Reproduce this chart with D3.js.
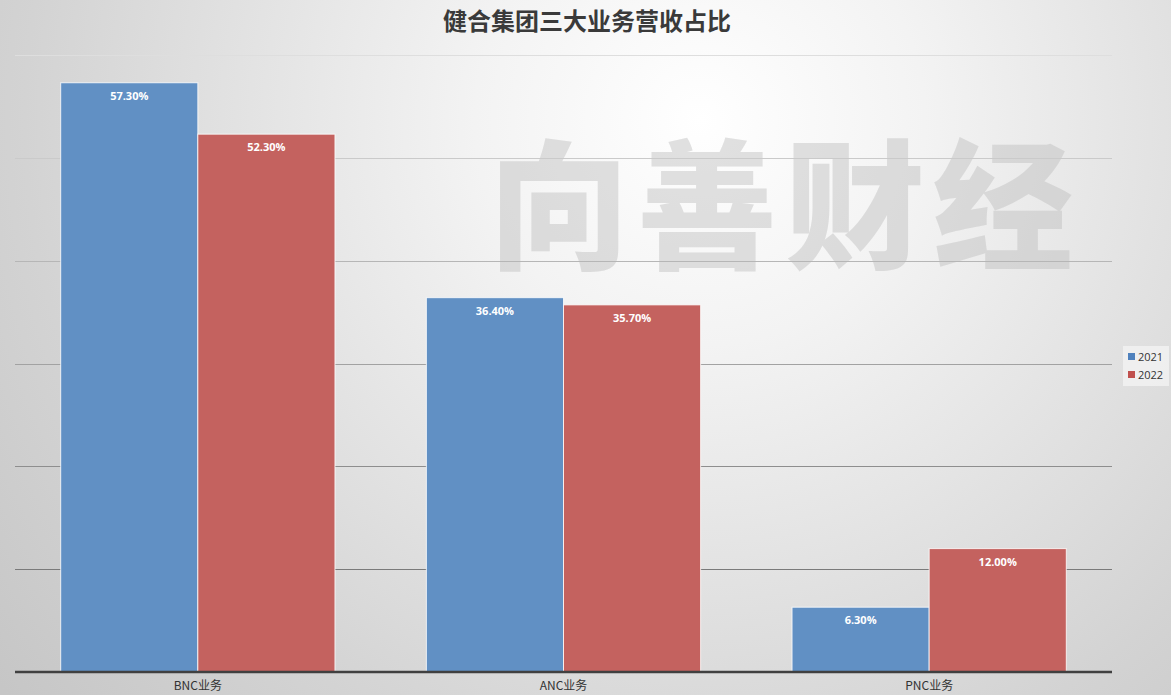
<!DOCTYPE html>
<html><head><meta charset="utf-8">
<script src="https://cdn.jsdelivr.net/npm/d3@7"></script>
<style>body{margin:0;overflow:hidden}svg{display:block}</style>
</head><body>
<svg id="c" width="1171" height="695"></svg>
<script>
const categories = ["BNC业务", "ANC业务", "PNC业务"];
const seriesNames = ["2021", "2022"];
const values2021 = [57.3, 36.4, 6.3];
const values2022 = [52.3, 35.7, 12.0];
const yTicks = [0, 10, 20, 30, 40, 50, 60];
const title = "健合集团三大业务营收占比";
const watermark = "向善财经";
const colors = ["#6190c4", "#c4625f"];
const legendColors = ["#4f81bd", "#c0504d"];

(function(){
const W = 1171, H = 695;
const svg = d3.select("#c");
const defs = svg.append("defs");
const rg = defs.append("radialGradient").attr("id","bg")
  .attr("gradientUnits","userSpaceOnUse").attr("cx",700).attr("cy",120).attr("r",900);
rg.append("stop").attr("offset","0").attr("stop-color","#ffffff");
rg.append("stop").attr("offset","0.25").attr("stop-color","#f3f3f3");
rg.append("stop").attr("offset","0.75").attr("stop-color","#d3d3d3");
rg.append("stop").attr("offset","1").attr("stop-color","#c6c6c6");
svg.append("rect").attr("width",W).attr("height",H).attr("fill","url(#bg)");

const pl = 15, pr = 1112, pt = 55, pb = 672;
const x0 = d3.scaleBand().domain(categories).range([pl, pr]).paddingInner(0.25).paddingOuter(0.125);
const x1 = d3.scaleBand().domain(seriesNames).range([0, x0.bandwidth()]);
const y = d3.scaleLinear().domain([0, 60]).range([pb, pt]);

// watermark
svg.append("text").attr("x", 785).attr("y", 258).attr("text-anchor","middle")
  .attr("font-family","'Noto Sans CJK SC'").attr("font-weight","900").attr("font-size",140)
  .attr("letter-spacing", 8)
  .attr("fill","#bcbcbc").attr("fill-opacity",0.45).text(watermark);

// gridlines
const gridCol = d3.scaleLinear().domain([10, 60]).range(["#7a7a7a", "#dedede"]);
svg.append("g").selectAll("line").data(yTicks.filter(d=>d>0)).join("line")
  .attr("x1", pl).attr("x2", pr).attr("y1", d=>Math.round(y(d))+0.5).attr("y2", d=>Math.round(y(d))+0.5)
  .attr("stroke", d=> gridCol(d)).attr("stroke-width",1);

const data = categories.map((c,i)=>({cat:c, vals:[values2021[i], values2022[i]]}));
const g = svg.append("g");
data.forEach(d=>{
  d.vals.forEach((v,j)=>{
    const xx = x0(d.cat) + x1(seriesNames[j]);
    g.append("rect").attr("x", xx).attr("y", y(v)).attr("width", x1.bandwidth()).attr("height", pb - y(v))
      .attr("fill", colors[j]).attr("stroke","#ffffff").attr("stroke-opacity",0.8).attr("stroke-width",1);
    g.append("text").attr("x", xx + x1.bandwidth()/2).attr("y", y(v)+17).attr("text-anchor","middle")
      .attr("font-family","'Open Sans', sans-serif").attr("font-weight","bold").attr("font-size",11)
      .attr("fill","#ffffff").text(v.toFixed(2)+"%");
  });
});

// baseline axis
const xAxis = svg.append("g").attr("transform",`translate(0,${pb})`)
  .call(d3.axisBottom(x0).tickSize(0).tickPadding(9));
xAxis.select(".domain").attr("stroke","#404040").attr("stroke-width",2.5).attr("d",`M${pl},0H${pr}`);
xAxis.selectAll("text").attr("font-family","'Noto Sans CJK SC', sans-serif").attr("font-size",12).attr("fill","#333");

// title
svg.append("text").attr("x", 587).attr("y", 30).attr("text-anchor","middle")
  .attr("font-family","'Noto Sans CJK SC', sans-serif").attr("font-weight","bold").attr("font-size",24)
  .attr("fill","#3a3a3a").text(title);

// legend
const lg = svg.append("g").attr("transform","translate(1123,346)");
lg.append("rect").attr("x",0).attr("y",0).attr("width",46).attr("height",40).attr("fill","#f2f2f2").attr("fill-opacity",0.8);
seriesNames.forEach((s,i)=>{
  lg.append("rect").attr("x",5).attr("y",7+i*18).attr("width",7).attr("height",7).attr("fill",legendColors[i]);
  lg.append("text").attr("x",15).attr("y",15+i*18).attr("font-family","'Open Sans', sans-serif").attr("font-size",11).attr("fill","#333").text(s);
});
})();
</script>
</body></html>
